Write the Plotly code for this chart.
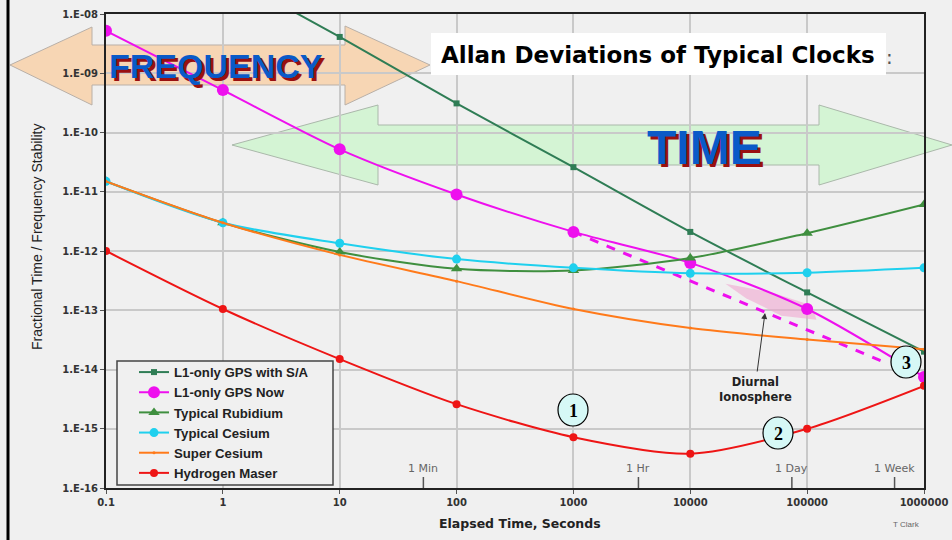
import math
import plotly.graph_objects as go

# ---------------- data ----------------
tau = [0.1, 1, 10, 100, 1000, 10000, 100000, 1000000]
tau_sa = [1, 10, 100, 1000, 10000, 100000, 1000000]
gps_sa = [5.0e-8, 4.1e-9, 3.1e-10, 2.6e-11, 2.1e-12, 2.0e-13, 2.0e-14]
gps_now = [5.2e-9, 5.2e-10, 5.2e-11, 9.0e-12, 2.1e-12, 6.3e-13, 1.05e-13, 7.5e-15]
rubidium = [1.5e-11, 3.0e-12, 9.6e-13, 5.0e-13, 4.7e-13, 7.6e-13, 2.0e-12, 6.1e-12]
cesium = [1.5e-11, 3.0e-12, 1.35e-12, 7.3e-13, 5.2e-13, 4.2e-13, 4.3e-13, 5.2e-13]
super_cesium = [1.5e-11, 3.0e-12, 8.6e-13, 3.1e-13, 1.05e-13, 5.0e-14, 3.2e-14, 2.2e-14]
h_maser = [1.0e-12, 1.05e-13, 1.5e-14, 2.6e-15, 7.2e-16, 3.8e-16, 1.0e-15, 5.3e-15]

dash_tau = [1000, 450000]
dash_val = [2.1e-12, 1.35e-14]

diurnal_tau = [20000, 50000, 110000, 120000, 60000, 30000]
diurnal_val = [2.8e-13, 2.0e-13, 1.2e-13, 6.9e-14, 8.1e-14, 1.6e-13]

x_tickvals = [0.1, 1, 10, 100, 1000, 10000, 100000, 1000000]
x_ticktext = ["0.1", "1", "10", "100", "1000", "10000", "100000", "1000000"]
y_tickvals = [1e-8, 1e-9, 1e-10, 1e-11, 1e-12, 1e-13, 1e-14, 1e-15, 1e-16]
y_ticktext = ["1.E-08", "1.E-09", "1.E-10", "1.E-11", "1.E-12", "1.E-13", "1.E-14", "1.E-15", "1.E-16"]

time_marks = ["1 Min", "1 Hr", "1 Day", "1 Week"]
time_mark_sec = [52, 3600, 74000, 560000]

# ---------------- layout helpers ----------------
W, H = 952, 540
L, R, T, B = 106, 924, 14, 488


def px(x):
    return (x - L) / (R - L)


def py(y):
    return (B - y) / (B - T)


def poly(points):
    return "M " + " L ".join(f"{px(a):.5f},{py(b):.5f}" for a, b in points) + " Z"


FONT = "Liberation Sans, Arial, sans-serif"
WIDE = "DejaVu Sans, sans-serif"

fig = go.Figure()

# diurnal ionosphere band
fig.add_trace(go.Scatter(x=diurnal_tau, y=diurnal_val, fill="toself", mode="none",
                         fillcolor="rgba(240,160,205,0.55)", showlegend=False, hoverinfo="skip"))

series = [
    ("L1-only GPS with S/A", tau_sa, gps_sa, "#2f7d55", "square", 6),
    ("L1-only GPS Now", tau, gps_now, "#ee10ee", "circle", 12),
    ("Typical Rubidium", tau, rubidium, "#3f8f3f", "triangle-up", 10),
    ("Typical Cesium", tau, cesium, "#1fd0ee", "circle", 9),
    ("Super Cesium", tau, super_cesium, "#ff7a1a", "circle", 3),
    ("Hydrogen Maser", tau, h_maser, "#ee1515", "circle", 8),
]

# dashed magenta extrapolation
fig.add_trace(go.Scatter(x=dash_tau, y=dash_val, mode="lines",
                         line=dict(color="#ee10ee", width=3, dash="dash"),
                         showlegend=False, hoverinfo="skip"))

for name, xs, ys, col, sym, sz in series:
    fig.add_trace(go.Scatter(x=xs, y=ys, name=f"<b>{name}</b>", mode="lines+markers",
                             line=dict(color=col, width=2, shape="spline", smoothing=0.8),
                             marker=dict(color=col, symbol=sym, size=sz)))

shapes = []
# outer left border
shapes.append(dict(type="line", xref="paper", yref="paper", x0=px(8), x1=px(8), y0=py(0), y1=py(540),
                   line=dict(color="black", width=3)))
# FREQUENCY double arrow
shapes.append(dict(type="path", xref="paper", yref="paper", layer="below",
                   path=poly([(10, 65), (92, 27), (92, 45), (345, 45), (345, 26), (430, 65),
                              (345, 105), (345, 85), (92, 85), (92, 105)]),
                   fillcolor="rgba(250,205,160,0.75)", line=dict(color="#b9b0a8", width=1)))
# TIME double arrow
shapes.append(dict(type="path", xref="paper", yref="paper", layer="below",
                   path=poly([(232, 145), (378, 105), (378, 125), (819, 125), (819, 105), (952, 145),
                              (819, 185), (819, 165), (378, 165), (378, 185)]),
                   fillcolor="rgba(205,245,205,0.8)", line=dict(color="#aab8aa", width=1)))
# title white box
shapes.append(dict(type="rect", xref="paper", yref="paper", x0=px(431), x1=px(886), y0=py(75), y1=py(33),
                   fillcolor="white", line=dict(width=0), layer="above"))
# legend box
shapes.append(dict(type="rect", xref="paper", yref="paper", x0=px(117), x1=px(333), y0=py(485), y1=py(361),
                   fillcolor="#f0f0f0", line=dict(color="#444", width=1.5), layer="above"))
# numbered circles
for cx, cy in [(573, 410), (778, 433), (906, 362)]:
    shapes.append(dict(type="circle", xref="paper", yref="paper", x0=px(cx - 15), x1=px(cx + 15),
                       y0=py(cy + 16), y1=py(cy - 16), fillcolor="#d6f8f6",
                       line=dict(color="black", width=1.2), layer="above"))
# time marks (tick lines)
for s in time_mark_sec:
    shapes.append(dict(type="line", xref="x", yref="paper", x0=s, x1=s, y0=0, y1=py(477),
                       line=dict(color="#555", width=1.5)))
fig.update_layout(shapes=shapes)

ann = []


def txt(x, y, text, **kw):
    d = dict(x=px(x), y=py(y), xref="paper", yref="paper", text=text, showarrow=False,
             xanchor="center", yanchor="middle")
    d.update(kw)
    ann.append(d)


# FREQUENCY / TIME text with a dark red drop shadow
for word, cx, cy, size in [("FREQUENCY", 216, 66, 34), ("TIME", 704, 147, 48)]:
    txt(cx + 3, cy + 3, f"<b>{word}</b>", font=dict(family=FONT, size=size, color="#9a1010"))
    txt(cx, cy, f"<b>{word}</b>", font=dict(family=FONT, size=size, color="#0a5ac8"))

# title
txt(658, 55, "<b>Allan Deviations of Typical Clocks</b>", font=dict(family=WIDE, size=23, color="black"))
txt(889, 57, ":", font=dict(family=WIDE, size=20, color="#555"))
# circle numbers
for (cx, cy), t in zip([(573, 410), (778, 433), (906, 362)], ["1", "2", "3"]):
    txt(cx, cy + 1, f"<b>{t}</b>", font=dict(family="Liberation Serif, Times New Roman, serif", size=18,
                                             color="black"))
# diurnal ionosphere
txt(755, 389, "<b>Diurnal<br>Ionosphere</b>", font=dict(family=WIDE, size=11.5, color="#222"))
ann.append(dict(x=px(765), y=py(313), xref="paper", yref="paper", ax=-8, ay=60, text="",
                showarrow=True, arrowhead=2, arrowsize=1.2, arrowwidth=1, arrowcolor="#333"))
# time mark labels
for s, lab in zip(time_mark_sec, time_marks):
    ann.append(dict(x=math.log10(s), y=py(468), xref="x", yref="paper", text=lab,
                    xanchor="center", yanchor="middle",
                    showarrow=False, font=dict(family=WIDE, size=11, color="#666")))
# axis titles
txt(37, 237, "Fractional Time / Frequency Stability", textangle=-90,
    font=dict(family=FONT, size=14, color="#222"))
txt(520, 523, "<b>Elapsed Time, Seconds</b>", font=dict(family=WIDE, size=12.5, color="#222"))
txt(906, 524, "T Clark", font=dict(family=FONT, size=8, color="#666"))
fig.update_layout(annotations=ann)

fig.update_xaxes(type="log", range=[-1, 6], tickvals=x_tickvals, ticktext=x_ticktext,
                 showgrid=True, gridcolor="#c9c9c9", gridwidth=1.5, automargin=False,
                 showline=True, linecolor="#222", linewidth=2, mirror=True,
                 ticks="outside", ticklen=4, tickcolor="#555",
                 tickfont=dict(family=WIDE, size=10, color="#333", weight="bold"), zeroline=False)
fig.update_yaxes(type="log", range=[-16, -8], tickvals=y_tickvals, ticktext=y_ticktext,
                 showgrid=True, gridcolor="#c9c9c9", gridwidth=1.5, automargin=False,
                 showline=True, linecolor="#222", linewidth=2, mirror=True,
                 ticks="outside", ticklen=4, tickcolor="#555",
                 tickfont=dict(family=WIDE, size=10, color="#333", weight="bold"), zeroline=False)

fig.update_layout(
    width=W, height=H,
    margin=dict(l=L, r=W - R, t=T, b=H - B, autoexpand=False),
    paper_bgcolor="#f0f0f0", plot_bgcolor="#f0f0f0",
    font=dict(family=FONT),
    legend=dict(x=px(134), y=py(357), xanchor="left", yanchor="top",
                bgcolor="rgba(0,0,0,0)", borderwidth=0,
                font=dict(family=FONT, size=13.2, color="#222"), tracegroupgap=0,
                itemwidth=30),
    showlegend=True,
)

fig.write_html("out.html")
